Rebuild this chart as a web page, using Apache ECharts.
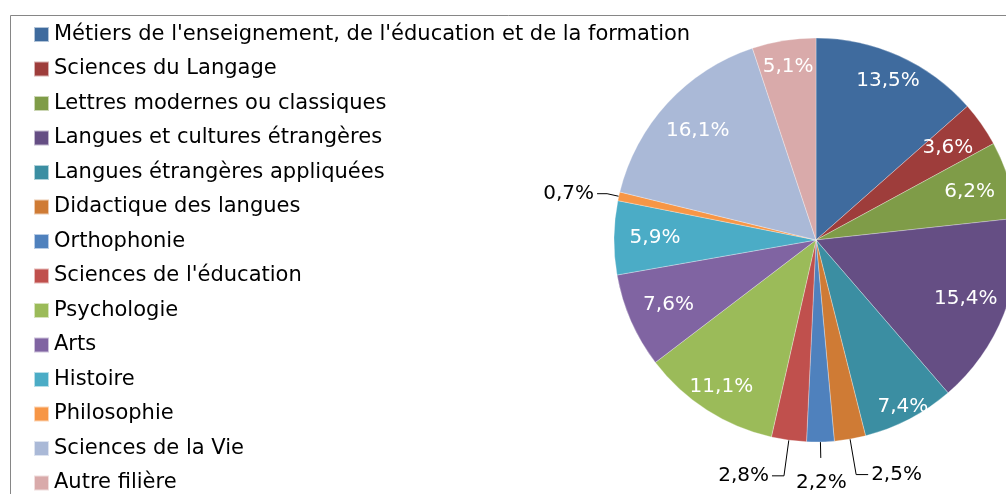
<!DOCTYPE html>
<html>
<head>
<meta charset="utf-8">
<script src="https://cdn.jsdelivr.net/npm/echarts@6/dist/echarts.min.js"></script>
<style>
html,body{margin:0;padding:0;background:#fff;}
#c{width:1006px;height:494px;}
</style>
</head>
<body>
<div id="c"></div>
<script>
var categories = [
  "Métiers de l'enseignement, de l'éducation et de la formation",
  "Sciences du Langage",
  "Lettres modernes ou classiques",
  "Langues et cultures étrangères",
  "Langues étrangères appliquées",
  "Didactique des langues",
  "Orthophonie",
  "Sciences de l'éducation",
  "Psychologie",
  "Arts",
  "Histoire",
  "Philosophie",
  "Sciences de la Vie",
  "Autre filière"
];
var values = [13.5, 3.6, 6.2, 15.4, 7.4, 2.5, 2.2, 2.8, 11.1, 7.6, 5.9, 0.7, 16.1, 5.1];
var colors = ['#3F6B9E','#9E3D3B','#7F9C48','#654E84','#3B8EA2','#CF7B35',
              '#4F81BD','#C0504D','#9BBB59','#8064A2','#4BACC6','#F79646',
              '#AAB9D7','#D9AAAA'];
var labelGroupFar = [4];
var labelGroupMid = [0, 8, 13];
var labelGroupNear = [1, 2, 3, 9, 10, 12];
var labelGroupOutside = [5, 7];
var labelGroupLeft = [11];
var labelGroupBelow = [6];

var FONT = 'DejaVu Sans';
var CENTER = [816, 240];
var R = 202;

function fmt(v){ return v.toFixed(1).replace('.', ',') + '%'; }

function labelData(idxList){
  return categories.map(function(n, i){
    var on = idxList.indexOf(i) >= 0;
    return {name: n, value: values[i], label: {show: on}, labelLine: {show: on}};
  });
}

var chart = echarts.init(document.getElementById('c'));
var overlayBase = {
  type: 'pie', center: CENTER, startAngle: 90, clockwise: true,
  silent: true, avoidLabelOverlap: false,
  itemStyle: {color: 'rgba(0,0,0,0)', borderWidth: 0},
  emphasis: {disabled: true}, animation: false
};
function insideLabel(color){
  return {position: 'inside', color: color, fontFamily: FONT, fontSize: 20,
          formatter: function(p){ return fmt(p.value); }};
}
function outsideLabel(){
  return {position: 'outside', color: '#000', fontFamily: FONT, fontSize: 20,
          distanceToLabelLine: 3, formatter: function(p){ return fmt(p.value); }};
}
chart.setOption({
  animation: false,
  color: colors,
  legend: {
    orient: 'vertical', left: 28, top: 19, height: 490,
    itemWidth: 15, itemHeight: 15, itemGap: 13.5,
    icon: 'rect', selectedMode: false,
    textStyle: {fontFamily: FONT, fontSize: 21, color: '#000', lineHeight: 21},
    data: categories
  },
  graphic: [{
    type: 'rect', z: -10,
    shape: {x: 10.5, y: 15.5, width: 1100, height: 600},
    style: {fill: 'none', stroke: '#868686', lineWidth: 1}
  }],
  series: [
    {
      type: 'pie', center: CENTER, radius: [0, R], startAngle: 90, clockwise: true,
      silent: true, label: {show: false}, labelLine: {show: false},
      itemStyle: {borderColor: 'rgba(255,255,255,0.6)', borderWidth: 0.5},
      emphasis: {disabled: true},
      data: categories.map(function(n, i){ return {name: n, value: values[i]}; })
    },
    Object.assign({}, overlayBase, {radius: [168, R], label: insideLabel('#fff'), data: labelData(labelGroupFar)}),
    Object.assign({}, overlayBase, {radius: [142, R], label: insideLabel('#fff'), data: labelData(labelGroupMid)}),
    Object.assign({}, overlayBase, {radius: [114, R], label: insideLabel('#fff'), data: labelData(labelGroupNear)}),
    Object.assign({}, overlayBase, {
      radius: [0, R], label: outsideLabel(),
      labelLine: {length: 36, length2: 12, lineStyle: {color: '#000', width: 1}},
      data: labelData(labelGroupOutside)
    }),
    Object.assign({}, overlayBase, {
      radius: [0, R], label: outsideLabel(),
      labelLine: {length: 12, length2: 10, lineStyle: {color: '#000', width: 1}},
      data: labelData(labelGroupLeft)
    }),
    Object.assign({}, overlayBase, {
      radius: [0, R],
      label: {position: 'outside', color: '#000', fontFamily: FONT, fontSize: 20,
              distanceToLabelLine: 0, formatter: function(){ return ' '; }},
      labelLine: {length: 16, length2: 0, lineStyle: {color: '#000', width: 1}},
      data: labelData(labelGroupBelow)
    }),
    Object.assign({}, overlayBase, {radius: [R + 20, R + 56], label: insideLabel('#000'), data: labelData(labelGroupBelow)})
  ]
});
</script>
</body>
</html>
